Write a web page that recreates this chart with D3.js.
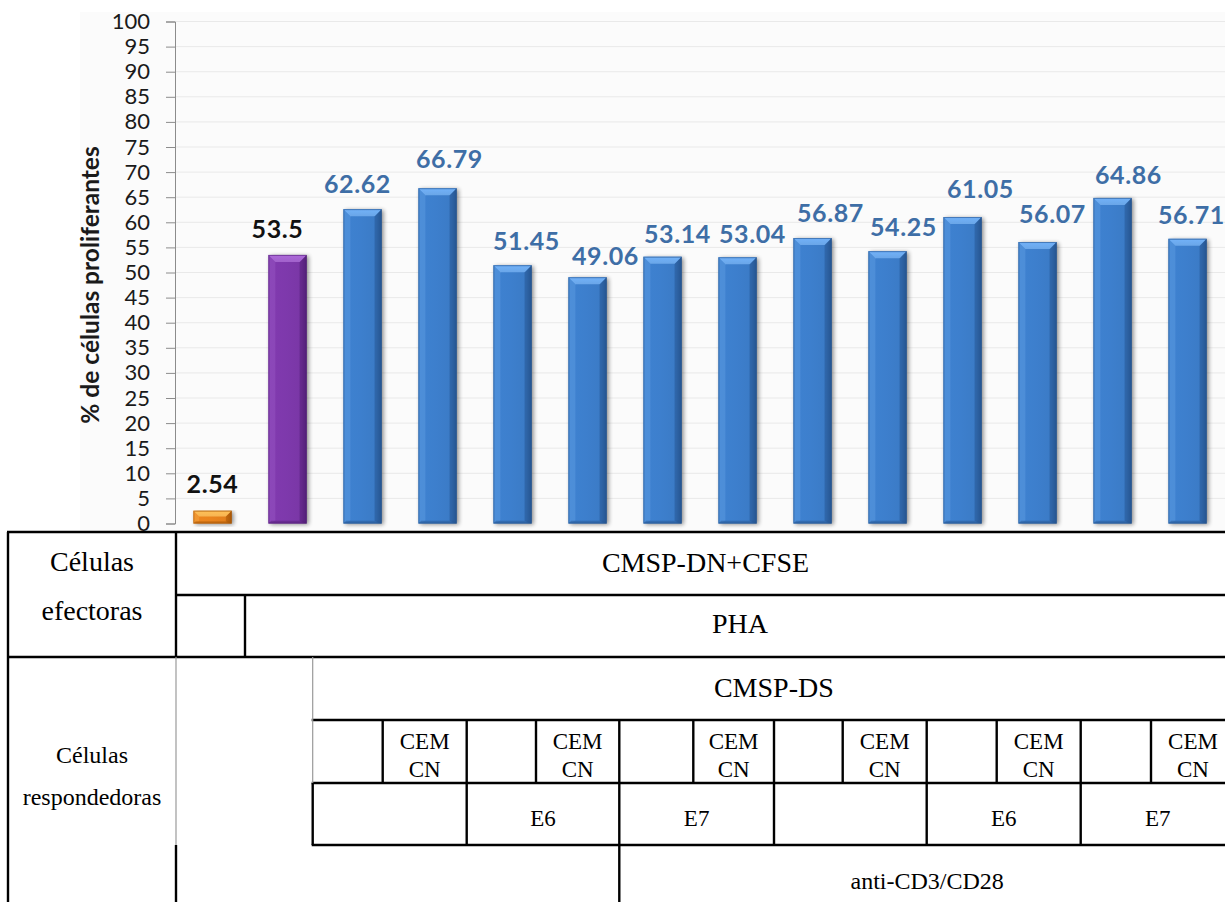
<!DOCTYPE html>
<html>
<head>
<meta charset="utf-8">
<script src="https://cdn.jsdelivr.net/npm/d3@7"></script>
<style>
  html, body { margin: 0; padding: 0; background: #ffffff; }
  svg { display: block; }
</style>
</head>
<body>
<svg id="chart" width="1225" height="902"></svg>
<script>
// ---- data ----------------------------------------------------------------
const categories = [
  "Control", "PHA",
  "PHA DS", "PHA DS+CEM CN", "PHA DS-E6", "PHA DS-E6+CEM CN", "PHA DS-E7", "PHA DS-E7+CEM CN",
  "CD3/CD28 DS", "CD3/CD28 DS+CEM CN", "CD3/CD28 DS-E6", "CD3/CD28 DS-E6+CEM CN", "CD3/CD28 DS-E7", "CD3/CD28 DS-E7+CEM CN"
];
const values = [2.54, 53.5, 62.62, 66.79, 51.45, 49.06, 53.14, 53.04, 56.87, 54.25, 61.05, 56.07, 64.86, 56.71];
const barKinds = ["unstim", "pha", "resp", "resp", "resp", "resp", "resp", "resp", "resp", "resp", "resp", "resp", "resp", "resp"];
const yTicks = d3.range(0, 101, 5);
const yTitle = "% de células proliferantes";

// table text
const effectorTitle = ["Células", "efectoras"];
const responderTitle = ["Células", "respondedoras"];
const effectorCells = "CMSP-DN+CFSE";
const mitogenLabel = "PHA";
const responderCells = "CMSP-DS";
const coCultureLabel = ["CEM", "CN"];
const peptideLabels = ["", "E6", "E7", "", "E6", "E7"];
const antiLabel = "anti-CD3/CD28";

// ---- layout -------------------------------------------------------------
const svg = d3.select("#chart");
const W = 1225, H = 902;
const plot = { left: 175, right: 1225, top: 21.5, bottom: 523.5 };

// label placement tweaks (px) around each bar's top centre
const labelDx = [0, -10, -5, 12, 14, 18, 15, 15, 18, 16, 18, 15, 16, 4];
const labelGap = [18, 17, 16, 20, 15, 12, 14, 14, 16, 15, 19, 19, 14, 15];

const palette = {
  unstim: { body: "#e27f1c", light: "#f6b452", dark: "#a95808", text: "#111111" },
  pha:    { body: "#7a37a6", light: "#a162cb", dark: "#532078", text: "#111111" },
  resp:   { body: "#3b7bc6", light: "#6aa6e8", dark: "#265591", text: "#3e6ea6" }
};

const x = d3.scaleBand()
  .domain(categories)
  .range([plot.left, plot.right])
  .paddingInner(0.49)
  .paddingOuter(0.245);

const y = d3.scaleLinear().domain([0, 100]).range([plot.bottom, plot.top]);

// ---- defs ---------------------------------------------------------------
const defs = svg.append("defs");
const shadow = defs.append("filter").attr("id", "barShadow")
  .attr("x", "-30%").attr("y", "-10%").attr("width", "160%").attr("height", "130%");
shadow.append("feGaussianBlur").attr("in", "SourceAlpha").attr("stdDeviation", 2);
shadow.append("feOffset").attr("dx", 2).attr("dy", 1).attr("result", "off");
shadow.append("feComponentTransfer").append("feFuncA").attr("type", "linear").attr("slope", 0.45);

Object.entries(palette).forEach(([k, c]) => {
  const g = defs.append("linearGradient").attr("id", "body-" + k)
    .attr("x1", 0).attr("x2", 1).attr("y1", 0).attr("y2", 0);
  g.append("stop").attr("offset", "0%").attr("stop-color", d3.color(c.body).brighter(0.15));
  g.append("stop").attr("offset", "45%").attr("stop-color", d3.color(c.body).brighter(0.1));
  g.append("stop").attr("offset", "85%").attr("stop-color", c.body);
  g.append("stop").attr("offset", "100%").attr("stop-color", c.dark);
  const t = defs.append("linearGradient").attr("id", "top-" + k)
    .attr("x1", 0).attr("x2", 0).attr("y1", 0).attr("y2", 1);
  t.append("stop").attr("offset", "0%").attr("stop-color", d3.color(c.light).brighter(0.2));
  t.append("stop").attr("offset", "100%").attr("stop-color", c.light);
});

// ---- background ---------------------------------------------------------
svg.append("rect").attr("x", 80).attr("y", 12).attr("width", W - 80).attr("height", 520)
  .attr("fill", "#fbfbfb");

// gridlines
svg.append("g").selectAll("line").data(yTicks.filter(t => t > 0)).join("line")
  .attr("x1", plot.left).attr("x2", plot.right)
  .attr("y1", d => y(d)).attr("y2", d => y(d))
  .attr("stroke", "#e9e9e9").attr("stroke-width", 1);

// y axis
const yAxis = svg.append("g").attr("transform", `translate(${plot.left},0)`)
  .call(d3.axisLeft(y).tickValues(yTicks).tickSize(9).tickPadding(16));
yAxis.select(".domain").attr("stroke", "#8c8c8c");
yAxis.selectAll(".tick line").attr("stroke", "#8c8c8c");
yAxis.selectAll(".tick text")
  .attr("font-family", "Lato, 'Open Sans', sans-serif")
  .attr("font-size", 22).attr("fill", "#1a1a1a");

svg.append("text")
  .attr("transform", `translate(99,285) rotate(-90)`)
  .attr("text-anchor", "middle")
  .attr("font-family", "Lato, 'Open Sans', sans-serif")
  .attr("font-weight", 700).attr("font-size", 24.5).attr("fill", "#1a1a1a")
  .text(yTitle);

// ---- bars ---------------------------------------------------------------
const bars = categories.map((c, i) => ({ cat: c, v: values[i], kind: barKinds[i], i }));
const bw = x.bandwidth();

const barG = svg.append("g").selectAll("g").data(bars).join("g");

barG.append("rect")
  .attr("x", d => x(d.cat)).attr("y", d => y(d.v))
  .attr("width", bw).attr("height", d => y(0) - y(d.v))
  .attr("fill", d => palette[d.kind].body)
  .attr("filter", "url(#barShadow)");

barG.append("rect")
  .attr("x", d => x(d.cat)).attr("y", d => y(d.v))
  .attr("width", bw).attr("height", d => y(0) - y(d.v))
  .attr("fill", d => `url(#body-${d.kind})`);

const bevel = d => Math.min(7, (y(0) - y(d.v)) / 2.2);

// left facet
barG.append("path")
  .attr("d", d => {
    const x0 = x(d.cat), y0 = y(d.v), y1 = y(0), b = bevel(d);
    return `M${x0},${y0}L${x0 + b},${y0 + b}L${x0 + b},${y1 - b * 0.4}L${x0},${y1}Z`;
  })
  .attr("fill", d => d3.color(palette[d.kind].light).copy({ opacity: 0.35 }));

// right facet
barG.append("path")
  .attr("d", d => {
    const x1 = x(d.cat) + bw, y0 = y(d.v), y1 = y(0), b = bevel(d);
    return `M${x1},${y0}L${x1 - b},${y0 + b}L${x1 - b},${y1 - b * 0.4}L${x1},${y1}Z`;
  })
  .attr("fill", d => d3.color(palette[d.kind].dark).copy({ opacity: 0.55 }));

// bottom facet
barG.append("path")
  .attr("d", d => {
    const x0 = x(d.cat), x1 = x0 + bw, y1 = y(0), b = bevel(d) * 0.4;
    return `M${x0},${y1}L${x0 + b},${y1 - b}L${x1 - b},${y1 - b}L${x1},${y1}Z`;
  })
  .attr("fill", d => d3.color(palette[d.kind].dark).copy({ opacity: 0.5 }));

// top facet
barG.append("path")
  .attr("d", d => {
    const x0 = x(d.cat), x1 = x0 + bw, y0 = y(d.v), b = bevel(d);
    return `M${x0},${y0}L${x1},${y0}L${x1 - b},${y0 + b}L${x0 + b},${y0 + b}Z`;
  })
  .attr("fill", d => `url(#top-${d.kind})`);

// outline
barG.append("rect")
  .attr("x", d => x(d.cat) + 0.5).attr("y", d => y(d.v) + 0.5)
  .attr("width", bw - 1).attr("height", d => y(0) - y(d.v) - 1)
  .attr("fill", "none")
  .attr("stroke", d => d3.color(palette[d.kind].dark).copy({ opacity: 0.6 }))
  .attr("stroke-width", 1);

// value labels
barG.append("text")
  .attr("x", d => x(d.cat) + bw / 2 + labelDx[d.i])
  .attr("y", d => y(d.v) - labelGap[d.i])
  .attr("text-anchor", "middle")
  .attr("font-family", "Lato, 'Open Sans', sans-serif")
  .attr("font-weight", 700).attr("font-size", 25)
  .attr("letter-spacing", 0.6)
  .attr("fill", d => palette[d.kind].text)
  .text(d => d3.format("")(d.v));

// ---- condition table ----------------------------------------------------
const T = {
  left: 8, colA: 176, colB: 245, colC: 312.7, right: 1235,
  rows: [532, 595, 657, 720, 783, 845, 902],
  groups: [312.7, 466.7, 619.3, 774, 926.7, 1080.7, 1235],
  splits: [382.7, 536, 693.3, 842.7, 996.7, 1151]
};
const R = T.rows;
const tbl = svg.append("g");
const hLines = [
  [T.left, T.right, R[0]], [T.colA, T.right, R[1]], [T.left, T.right, R[2]],
  [T.colC, T.right, R[3]], [T.colC, T.right, R[4]], [T.colC, T.right, R[5]]
];
const vLines = [
  [T.left, R[0], R[6], "#000"], [T.colA, R[0], R[2], "#000"],
  [T.colA, R[2], R[5], "#9a9a9a"], [T.colA, R[5], R[6], "#000"],
  [T.colB, R[1], R[2], "#000"],
  [T.colC, R[2], R[4], "#9a9a9a"], [T.colC, R[4], R[5], "#000"],
  [T.groups[2], R[5], R[6], "#000"]
];
T.groups.slice(1, 6).forEach(g => vLines.push([g, R[3], R[5], "#000"]));
T.splits.forEach(s => vLines.push([s, R[3], R[4], "#000"]));

tbl.selectAll("line.h").data(hLines).join("line").attr("class", "h")
  .attr("x1", d => d[0] - 1).attr("x2", d => d[1]).attr("y1", d => d[2]).attr("y2", d => d[2])
  .attr("stroke", "#000").attr("stroke-width", 2.4);
tbl.selectAll("line.v").data(vLines).join("line").attr("class", "v")
  .attr("x1", d => d[0]).attr("x2", d => d[0]).attr("y1", d => d[1]).attr("y2", d => d[2])
  .attr("stroke", d => d[3]).attr("stroke-width", d => d[3] === "#000" ? 2.4 : 1.2);

const serif = "'Liberation Serif', 'Times New Roman', serif";
const tText = (str, cx, by, size) => tbl.append("text")
  .attr("x", cx).attr("y", by).attr("text-anchor", "middle")
  .attr("font-family", serif).attr("font-size", size).attr("fill", "#000").text(str);

tText(effectorTitle[0], (T.left + T.colA) / 2, 571, 28);
tText(effectorTitle[1], (T.left + T.colA) / 2, 620, 28);
tText(effectorCells, (T.colA + T.right) / 2, 572, 28);
tText(mitogenLabel, (T.colB + T.right) / 2, 633, 28);
tText(responderCells, (T.colC + T.right) / 2, 697, 28);
T.splits.forEach((s, i) => {
  const cx = (s + T.groups[i + 1]) / 2;
  tText(coCultureLabel[0], cx, 749, 23);
  tText(coCultureLabel[1], cx, 777, 23);
});
peptideLabels.forEach((p, i) => {
  if (p) tText(p, (T.groups[i] + T.groups[i + 1]) / 2, 826, 23);
});
tText(responderTitle[0], (T.left + T.colA) / 2, 763, 24);
tText(responderTitle[1], (T.left + T.colA) / 2, 805, 24);
tText(antiLabel, (T.groups[2] + T.right) / 2, 889, 24);
</script>
</body>
</html>
